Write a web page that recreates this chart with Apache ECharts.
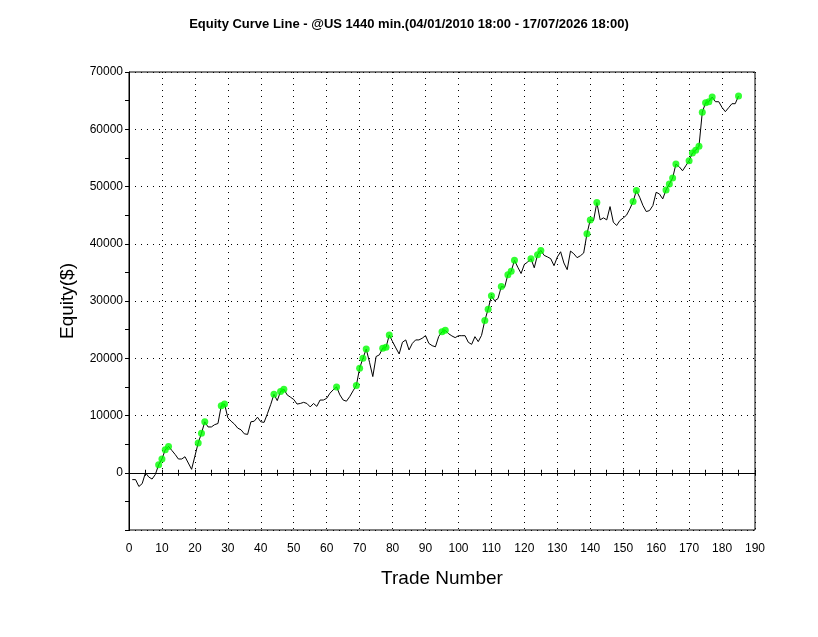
<!DOCTYPE html>
<html>
<head>
<meta charset="utf-8">
<title>Equity Curve Line</title>
<script src="https://cdn.jsdelivr.net/npm/echarts@6/dist/echarts.min.js"></script>
<style>
	html, body { margin: 0; padding: 0; background: #fff; }
	#main { width: 818px; height: 637px; }
</style>
</head>
<body>
<div id="main"></div>
<script>
/*
 * 数据: 交易序号 1..185 对应的资金曲线
 */
var titleText = 'Equity Curve Line - @US 1440 min.(04/01/2010 18:00 - 17/07/2026 18:00)';
var xTicks = [0, 10, 20, 30, 40, 50, 60, 70, 80, 90, 100, 110, 120, 130, 140, 150, 160, 170, 180, 190];
var yTicks = [-10000, 0, 10000, 20000, 30000, 40000, 50000, 60000, 70000];
var equity = [
	-1200, -1200, -2400, -1900, 0, -750, -1100, -300, 1400, 2400,
	4000, 4600, 3900, 3200, 2400, 2400, 2800, 1700, 600, 2900,
	5200, 6900, 8900, 8000, 8000, 8400, 8600, 11700, 12000, 9600,
	9000, 8500, 7800, 7500, 6800, 6700, 8900, 9000, 9700, 8900,
	8800, 10300, 11900, 13700, 12600, 14200, 14600, 13600, 13200, 12800,
	12000, 12100, 12300, 12100, 11500, 12100, 11600, 12700, 12700, 13000,
	13900, 14500, 15000, 13600, 12700, 12500, 13300, 14300, 15250, 18260,
	20000, 21600, 19300, 16800, 20300, 20600, 21750, 21900, 24060, 22900,
	21800, 20750, 22800, 23200, 21450, 22600, 23200, 23200, 23500, 23950,
	22600, 22200, 22000, 23800, 24640, 24870, 24290, 23900, 23600, 23940,
	23940, 23940, 22780, 22430, 23770, 22900, 24000, 26600, 28580, 30900,
	30030, 30430, 32520, 32400, 34600, 35190, 37100, 35900, 34800, 36400,
	36800, 37390, 35800, 38090, 38840, 37970, 37700, 37390, 36170, 37680,
	38600, 36640, 35480, 38720, 38260, 37570, 37900, 38380, 41740, 44170,
	44060, 47190, 44170, 44520, 44170, 46490, 43770, 43190, 44060, 44500,
	44990, 46090, 47360, 49280, 48120, 46670, 45620, 45800, 46670, 48990,
	48700, 47830, 49400, 50430, 51480, 53910, 53450, 52750, 53620, 54490,
	55830, 56350, 57040, 62960, 64640, 64810, 65620, 64810, 64810, 63800,
	63070, 63770, 64460, 64460, 65800
];

/*
 * 生成折线数据和新高点(绿色点)
 */
function buildSeries(values) {
	var line = [];
	var highs = [];
	var peak = 0;
	for (var i = 0; i < values.length; i++) {
		line.push([i + 1, values[i]]);
		if (values[i] > peak) {
			peak = values[i];
			highs.push([i + 1, values[i]]);
		}
	}
	return { line: line, highs: highs };
}

function drawEquity(elementId) {
	var dom = document.getElementById(elementId);
	var myChart = echarts.init(dom, null, { renderer: 'canvas' });
	var s = buildSeries(equity);
	var dotted = { color: '#000', width: 1, type: [1, 5] };

	option = {
		animation: false,
		backgroundColor: '#fff',
		textStyle: {
			fontFamily: 'Arial, "Liberation Sans", sans-serif',
			color: '#000'
		},
		title: {
			text: titleText,
			left: 'center',
			top: 13,
			textStyle: {
				fontSize: 13,
				fontWeight: 'bold',
				color: '#000',
				fontFamily: 'Arial, "Liberation Sans", sans-serif'
			}
		},
		grid: {
			left: 129,
			right: 63,
			top: 72,
			bottom: 107,
			show: true,
			borderColor: '#000',
			borderWidth: 1,
			backgroundColor: '#fff'
		},
		xAxis: [{
			// 底部刻度标签
			type: 'value',
			min: xTicks[0],
			max: xTicks[xTicks.length - 1],
			interval: xTicks[1] - xTicks[0],
			name: 'Trade Number',
			nameLocation: 'middle',
			nameGap: 39,
			nameTextStyle: { fontSize: 19, color: '#000' },
			axisLine: { show: false, onZero: false },
			axisTick: { show: false },
			axisLabel: { fontSize: 12, color: '#000', margin: 13 },
			splitLine: { show: true, lineStyle: dotted }
		}, {
			// 零线 (下方刻度)
			type: 'value',
			min: xTicks[0],
			max: xTicks[xTicks.length - 1],
			interval: 5,
			position: 'bottom',
			axisLine: { show: true, onZero: true, onZeroAxisIndex: 0, lineStyle: { color: '#000', width: 1 } },
			axisTick: { show: true, inside: false, length: 3, lineStyle: { color: '#000' } },
			axisLabel: { show: false },
			splitLine: { show: false }
		}, {
			// 零线 (上方刻度)
			type: 'value',
			min: xTicks[0],
			max: xTicks[xTicks.length - 1],
			interval: 5,
			position: 'bottom',
			axisLine: { show: false, onZero: true, onZeroAxisIndex: 0 },
			axisTick: { show: true, inside: true, length: 3, lineStyle: { color: '#000' } },
			axisLabel: { show: false },
			splitLine: { show: false }
		}],
		yAxis: {
			type: 'value',
			min: yTicks[0],
			max: yTicks[yTicks.length - 1],
			interval: yTicks[1] - yTicks[0],
			name: 'Equity($)',
			nameLocation: 'middle',
			nameGap: 52,
			nameTextStyle: { fontSize: 19, color: '#000' },
			axisLine: { show: true, onZero: false, lineStyle: { color: '#000' } },
			axisTick: { show: true, length: 4, lineStyle: { color: '#000' } },
			minorTick: { show: true, splitNumber: 2, length: 4, lineStyle: { color: '#000' } },
			axisLabel: {
				fontSize: 12,
				color: '#000',
				margin: 6,
				formatter: function(v) {
					return v < 0 ? '' : String(v);
				}
			},
			splitLine: { show: true, lineStyle: dotted }
		},
		series: [{
			type: 'line',
			data: s.line,
			showSymbol: false,
			symbol: 'none',
			lineStyle: { color: '#000', width: 1 },
			z: 3
		}, {
			type: 'scatter',
			data: s.highs,
			symbol: 'circle',
			symbolSize: 7,
			itemStyle: { color: '#00ff00' },
			z: 4
		}]
	};
	myChart.setOption(option);
}

drawEquity('main');
</script>
</body>
</html>
